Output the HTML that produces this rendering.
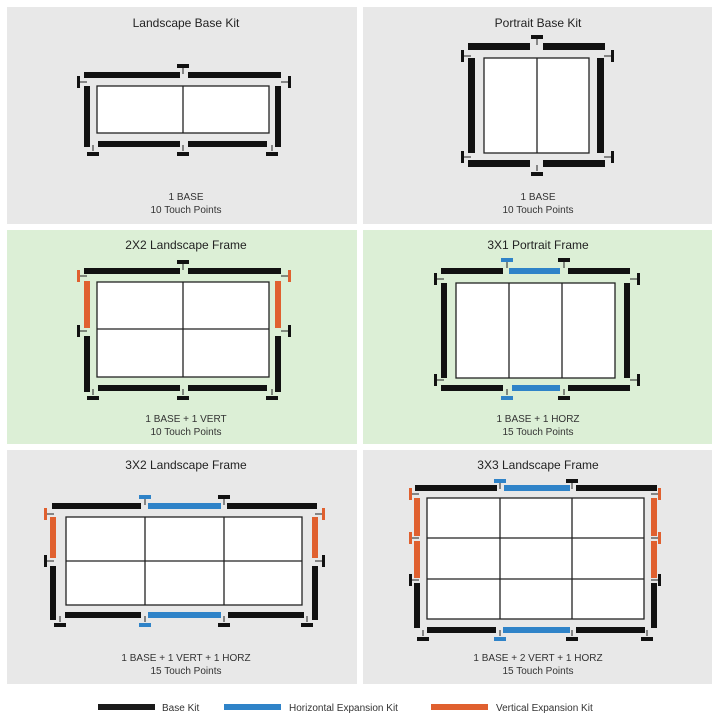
<!DOCTYPE html>
<html><head><meta charset="utf-8"><style>
html,body{margin:0;padding:0;background:#fff;}
svg{display:block;font-family:"Liberation Sans",sans-serif;}
.t{font-size:12px;fill:#222;text-anchor:middle;}
.c{font-size:10px;fill:#333;text-anchor:middle;}
.l{font-size:10px;fill:#333;}
</style></head><body>
<svg id="s" width="721" height="727" viewBox="0 0 721 727" xmlns="http://www.w3.org/2000/svg">
<rect x="7" y="7" width="350" height="217" fill="#e8e8e8"/>
<rect x="363" y="7" width="349" height="217" fill="#e8e8e8"/>
<rect x="7" y="230" width="350" height="214" fill="#dcefd6"/>
<rect x="363" y="230" width="349" height="214" fill="#dcefd6"/>
<rect x="7" y="450" width="350" height="234" fill="#e8e8e8"/>
<rect x="363" y="450" width="349" height="234" fill="#e8e8e8"/>
<text class="t" x="186" y="27">Landscape Base Kit</text>
<text class="t" x="538" y="27">Portrait Base Kit</text>
<text class="t" x="186" y="249">2X2 Landscape Frame</text>
<text class="t" x="538" y="249">3X1 Portrait Frame</text>
<text class="t" x="186" y="469">3X2 Landscape Frame</text>
<text class="t" x="538" y="469">3X3 Landscape Frame</text>
<text class="c" x="186" y="200">1 BASE</text>
<text class="c" x="186" y="213">10 Touch Points</text>
<text class="c" x="538" y="200">1 BASE</text>
<text class="c" x="538" y="213">10 Touch Points</text>
<text class="c" x="186" y="422">1 BASE + 1 VERT</text>
<text class="c" x="186" y="435">10 Touch Points</text>
<text class="c" x="538" y="422">1 BASE + 1 HORZ</text>
<text class="c" x="538" y="435">15 Touch Points</text>
<text class="c" x="186" y="661">1 BASE + 1 VERT + 1 HORZ</text>
<text class="c" x="186" y="674">15 Touch Points</text>
<text class="c" x="538" y="661">1 BASE + 2 VERT + 1 HORZ</text>
<text class="c" x="538" y="674">15 Touch Points</text>
<rect x="98" y="704" width="57" height="6" fill="#1a1a1a"/>
<text class="l" x="162" y="711">Base Kit</text>
<rect x="224" y="704" width="57" height="6" fill="#2f83c8"/>
<text class="l" x="289" y="711">Horizontal Expansion Kit</text>
<rect x="431" y="704" width="57" height="6" fill="#e0602f"/>
<text class="l" x="496" y="711">Vertical Expansion Kit</text>
<g id="g"></g>
</svg>
<script>
var K='#111',B='#2f83c8',O='#e0602f',h='';
function r(x,y,w,H,c){h+='<rect x="'+x+'" y="'+y+'" width="'+w+'" height="'+H+'" fill="'+c+'"/>';}
function ln(x1,y1,x2,y2,w,c){h+='<line x1="'+x1+'" y1="'+y1+'" x2="'+x2+'" y2="'+y2+'" stroke="'+(c||'#222')+'" stroke-width="'+(w||1)+'"/>';}
function scr(x1,y1,x2,y2,vx,hy){r(x1,y1,x2-x1,y2-y1,'#fff');h+='<rect x="'+x1+'" y="'+y1+'" width="'+(x2-x1)+'" height="'+(y2-y1)+'" fill="none" stroke="#222" stroke-width="1.3"/>';vx.forEach(function(v){ln(v,y1,v,y2,1.3);});hy.forEach(function(v){ln(x1,v,x2,v,1.3);});}
function ht(x,y,c,down){r(x-6,y,12,4,c);var a=down?y+4:y-1,b=down?y+10:y-7;ln(x,a,x,b,1);}
function vt(x,y,c,right){r(x,y-6,3,12,c);var a=right?x+3:x,b=right?x+10:x-7;ln(a,y,b,y,1);}
// Panel 1
scr(97,86,269,133,[183],[]);
r(84,72,96,6,K);r(188,72,93,6,K);r(84,86,6,61,K);r(275,86,6,61,K);r(98,141,82,6,K);r(188,141,79,6,K);
ht(183,64,K,true);vt(77,82,K,true);vt(288,82,K,false);ht(93,152,K,false);ht(183,152,K,false);ht(272,152,K,false);
// Panel 2
scr(484,58,589,153,[537],[]);
r(468,43,62,7,K);r(543,43,62,7,K);r(468,58,7,95,K);r(597,58,7,95,K);r(468,160,62,7,K);r(543,160,62,7,K);
ht(537,35,K,true);ht(537,172,K,false);vt(461,56,K,true);vt(611,56,K,false);vt(461,157,K,true);vt(611,157,K,false);
// Panel 3
scr(97,282,269,377,[183],[329]);
r(84,268,96,6,K);r(188,268,93,6,K);r(84,281,6,47,O);r(275,281,6,47,O);r(84,336,6,56,K);r(275,336,6,56,K);r(98,385,82,6,K);r(188,385,79,6,K);
ht(183,260,K,true);vt(77,276,O,true);vt(288,276,O,false);vt(77,331,K,true);vt(288,331,K,false);ht(93,396,K,false);ht(183,396,K,false);ht(272,396,K,false);
// Panel 4
scr(456,283,615,378,[509,562],[]);
r(441,268,62,6,K);r(509,268,51,6,B);r(568,268,62,6,K);r(441,283,6,95,K);r(624,283,6,95,K);r(441,385,62,6,K);r(512,385,48,6,B);r(568,385,62,6,K);
ht(507,258,B,true);ht(564,258,K,true);ht(507,396,B,false);ht(564,396,K,false);vt(434,279,K,true);vt(637,279,K,false);vt(434,380,K,true);vt(637,380,K,false);
// Panel 5
scr(66,517,302,605,[145,224],[561]);
r(52,503,89,6,K);r(148,503,73,6,B);r(227,503,90,6,K);r(50,517,6,41,O);r(312,517,6,41,O);r(50,566,6,54,K);r(312,566,6,54,K);r(65,612,76,6,K);r(148,612,73,6,B);r(228,612,76,6,K);
ht(145,495,B,true);ht(224,495,K,true);vt(44,514,O,true);vt(322,514,O,false);vt(44,561,K,true);vt(322,561,K,false);ht(60,623,K,false);ht(145,623,B,false);ht(224,623,K,false);ht(307,623,K,false);
// Panel 6
scr(427,498,644,619,[500,572],[538,579]);
r(415,485,82,6,K);r(504,485,66,6,B);r(576,485,81,6,K);r(414,498,6,38,O);r(414,541,6,37,O);r(414,583,6,45,K);r(651,498,6,38,O);r(651,541,6,37,O);r(651,583,6,45,K);r(427,627,69,6,K);r(503,627,67,6,B);r(576,627,69,6,K);
ht(500,479,B,true);ht(572,479,K,true);vt(409,494,O,true);vt(658,494,O,false);vt(409,538,O,true);vt(658,538,O,false);vt(409,580,K,true);vt(658,580,K,false);ht(423,637,K,false);ht(500,637,B,false);ht(572,637,K,false);ht(647,637,K,false);
document.getElementById('g').innerHTML=h;
</script>
</body></html>
